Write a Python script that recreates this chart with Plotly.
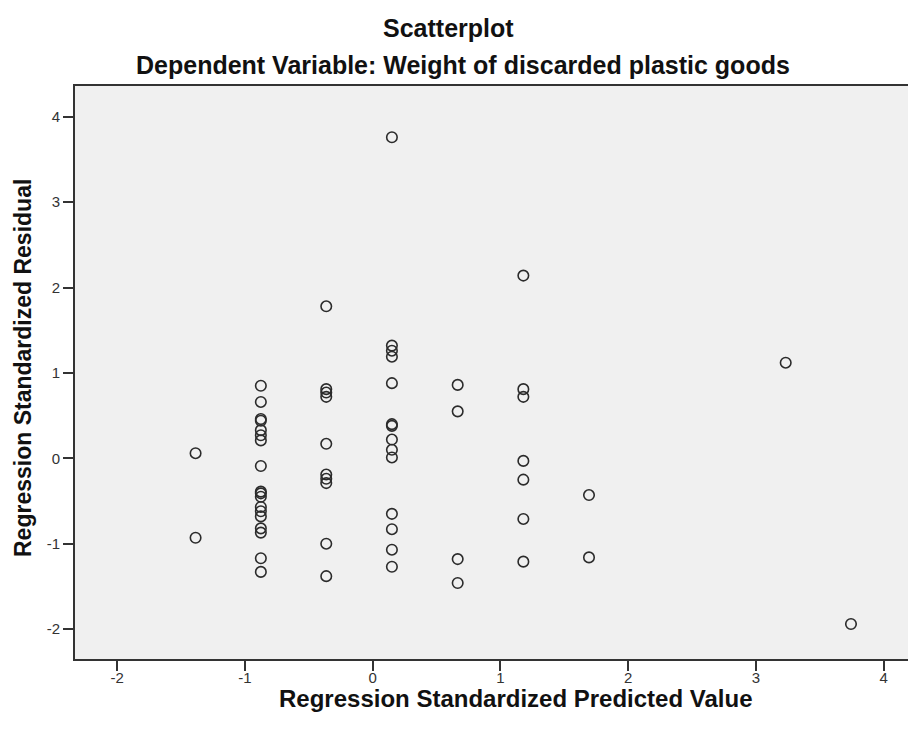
import plotly.graph_objects as go

# Regression standardized predicted values (x) and residuals (y)
predicted = (
    [-1.386] * 2
    + [-0.875] * 18
    + [-0.363] * 10
    + [0.151] * 14
    + [0.666] * 4
    + [1.180] * 7
    + [1.694] * 2
    + [3.234]
    + [3.745]
)
residual = (
    [0.06, -0.93]
    + [0.85, 0.66, 0.46, 0.44, 0.33, 0.27, 0.21, -0.09, -0.39, -0.41, -0.45,
       -0.57, -0.62, -0.68, -0.82, -0.87, -1.17, -1.33]
    + [1.78, 0.81, 0.77, 0.72, 0.17, -0.19, -0.24, -0.29, -1.00, -1.38]
    + [3.76, 1.32, 1.26, 1.19, 0.88, 0.40, 0.38, 0.22, 0.10, 0.01,
       -0.65, -0.83, -1.07, -1.27]
    + [0.86, 0.55, -1.18, -1.46]
    + [2.14, 0.81, 0.72, -0.03, -0.25, -0.71, -1.21]
    + [-0.43, -1.16]
    + [1.12]
    + [-1.94]
)
x_ticks = [-2, -1, 0, 1, 2, 3, 4]
y_ticks = [-2, -1, 0, 1, 2, 3, 4]

FONT = "Liberation Sans, Arial, sans-serif"

# page body has an 8px margin; margins below compensate so the plot box sits
# at left 75, top 86, bottom 659 and runs to the right edge of the window
L, T, R, B = 67, 78, 8, 80
PX0, PY0, PW, PH = 75, 86, 841, 573


def px(x):
    return (x - PX0) / PW


def py(y):
    return (PY0 + PH - y) / PH


fig = go.Figure(
    go.Scatter(
        x=predicted,
        y=residual,
        mode="markers",
        marker=dict(symbol="circle-open", size=10.5, color="#2b2b2b",
                    line=dict(width=1.6, color="#2b2b2b")),
        hoverinfo="x+y",
    )
)

fig.update_layout(
    width=916,
    height=731,
    margin=dict(l=L, r=R, t=T, b=B),
    paper_bgcolor="white",
    plot_bgcolor="#F0F0F0",
    showlegend=False,
    font=dict(family=FONT, color="#222222"),
    xaxis=dict(
        range=[-2.33, 4.254],
        tickvals=x_ticks,
        ticktext=[str(v) for v in x_ticks],
        showgrid=False,
        zeroline=False,
        showline=True,
        linecolor="#333333",
        linewidth=2,
        mirror=True,
        ticks="outside",
        ticklen=10,
        tickwidth=2,
        tickcolor="#333333",
        ticklabelstandoff=-6,
        tickfont=dict(size=15, family=FONT, color="#333333"),
    ),
    yaxis=dict(
        range=[-2.35, 4.36],
        tickvals=y_ticks,
        ticktext=[str(v) for v in y_ticks],
        showgrid=False,
        zeroline=False,
        showline=True,
        linecolor="#333333",
        linewidth=2,
        ticks="outside",
        ticklen=10,
        tickwidth=2,
        tickcolor="#333333",
        tickfont=dict(size=15, family=FONT, color="#333333"),
    ),
    annotations=[
        dict(text="<b>Scatterplot</b>", xref="paper", yref="paper",
             x=px(448), y=py(28), showarrow=False,
             xanchor="center", yanchor="middle",
             font=dict(size=25, family=FONT, color="#111111")),
        dict(text="<b>Dependent Variable: Weight of discarded plastic goods</b>",
             xref="paper", yref="paper",
             x=px(463), y=py(65), showarrow=False,
             xanchor="center", yanchor="middle",
             font=dict(size=25, family=FONT, color="#111111")),
        dict(text="<b>Regression Standardized Predicted Value</b>",
             xref="paper", yref="paper",
             x=px(515), y=py(698), showarrow=False,
             xanchor="center", yanchor="middle",
             font=dict(size=24, family=FONT, color="#111111")),
        dict(text="<b>Regression Standardized Residual</b>",
             xref="paper", yref="paper", textangle=-90,
             x=px(23), y=py(368), showarrow=False,
             xanchor="center", yanchor="middle",
             font=dict(size=23, family=FONT, color="#111111")),
    ],
)

fig.write_html("out.html")
